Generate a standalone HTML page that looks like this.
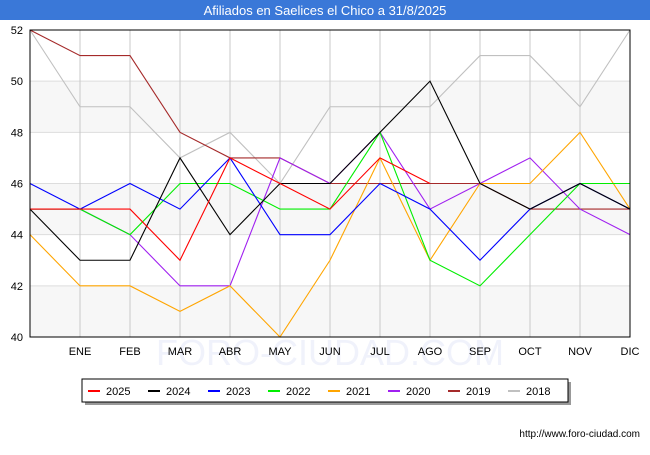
<!DOCTYPE html>
<html><head><meta charset="utf-8"><style>
body{margin:0;background:#fff;font-family:"Liberation Sans",sans-serif}
#w{position:relative;width:650px;height:450px}
</style></head><body>
<div id="w">
<svg id="s" width="650" height="450" xmlns="http://www.w3.org/2000/svg" font-family="Liberation Sans, sans-serif">
<rect x="0" y="0" width="650" height="20" fill="#3a78d8"/>
<text x="325" y="15" text-anchor="middle" fill="#fff" font-size="13">Afiliados en Saelices el Chico a 31/8/2025</text>
<g id="plot"></g>
<text x="640" y="437" text-anchor="end" font-size="10" fill="#000">http://www.foro-ciudad.com</text>
</svg>
</div>
<script>
const months=["","ENE","FEB","MAR","ABR","MAY","JUN","JUL","AGO","SEP","OCT","NOV","DIC"];
const yTicks=[40,42,44,46,48,50,52];
const seriesNames=["2025","2024","2023","2022","2021","2020","2019","2018"];
const seriesColors=["#ff0000","#000000","#0000ff","#00ee00","#ffa500","#a020f0","#a52a2a","#c0c0c0"];
const s2025=[45,45,45,43,47,46,45,47,46];
const s2024=[45,43,43,47,44,46,46,48,50,46,45,46,45];
const s2023=[46,45,46,45,47,44,44,46,45,43,45,46,45];
const s2022=[45,45,44,46,46,45,45,48,43,42,44,46,46];
const s2021=[44,42,42,41,42,40,43,47,43,46,46,48,45];
const s2020=[45,45,44,42,42,47,46,48,45,46,47,45,44];
const s2019=[52,51,51,48,47,47,46,46,46,46,45,45,45];
const s2018=[52,49,49,47,48,46,49,49,49,51,51,49,52];
const allSeries=[s2025,s2024,s2023,s2022,s2021,s2020,s2019,s2018];
const NS="http://www.w3.org/2000/svg";
const L=30,R=630,T=30,B=337;
const x=i=>L+(R-L)*i/12;
const y=v=>B-(v-40)/12*(B-T);
const g=document.getElementById('plot');
function mk(t,a){const e=document.createElementNS(NS,t);for(const k in a)e.setAttribute(k,a[k]);g.appendChild(e);return e;}
const wm=mk('text',{x:330,y:365,'text-anchor':'middle','font-size':36,fill:'#f0f2fb'});wm.textContent='FORO-CIUDAD.COM';


for(let k=0;k<6;k+=2){const e=mk('rect',{x:L,y:y(yTicks[k+1]),width:R-L,height:y(yTicks[k])-y(yTicks[k+1]),fill:'#f7f7f7'});

}
yTicks.forEach(v=>{const l=mk('line',{x1:L,x2:R,y1:y(v),y2:y(v),stroke:'#ddd'});


const t=mk('text',{x:L-7,y:y(v)+4,'text-anchor':'end','font-size':11});t.textContent=v;

});
months.forEach((m,i)=>{if(i>0){const l=mk('line',{x1:x(i),x2:x(i),y1:T,y2:B,stroke:'#c8c8c8'});

}
const t=mk('text',{x:x(i),y:B+18,'text-anchor':'middle','font-size':11});t.textContent=m;

});
for(let k=allSeries.length-1;k>=0;k--){const d=allSeries[k];
const p=mk('polyline',{points:d.map((v,i)=>x(i)+','+y(v)).join(' '),fill:'none',stroke:seriesColors[k],'stroke-width':1.1});

}
const f=mk('rect',{x:L,y:T,width:R-L,height:B-T,fill:'none',stroke:'#000'});


const sh=mk('rect',{x:85,y:382,width:486,height:23,fill:'#999'});


const lb=mk('rect',{x:82,y:379,width:486,height:23,fill:'#fff',stroke:'#000'});


seriesNames.forEach((n,k)=>{const lx=88+k*60;
const l=mk('line',{x1:lx,x2:lx+12,y1:391,y2:391,stroke:seriesColors[k],'stroke-width':2});


const t=mk('text',{x:lx+18,y:395,'font-size':11});t.textContent=n;

});
</script>
</body></html>
